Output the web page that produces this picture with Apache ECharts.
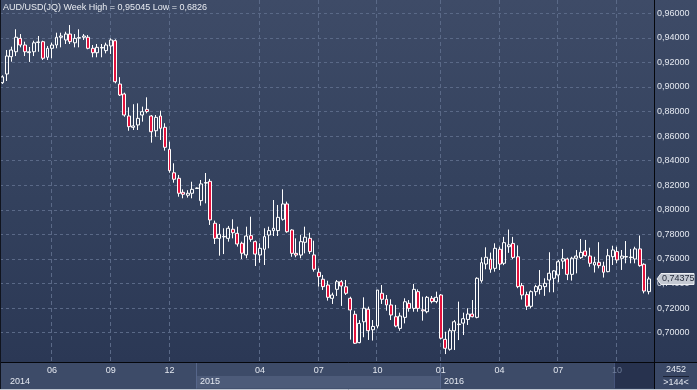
<!DOCTYPE html>
<html><head><meta charset="utf-8">
<script src="https://cdn.jsdelivr.net/npm/echarts@6/dist/echarts.min.js"></script>
<style>
html,body{margin:0;padding:0;background:#2c3855;}
#c{width:697px;height:390px;background:linear-gradient(to bottom,#3e4b67 0px,#34425e 180px,#2b3855 362px,#2b3855 390px);}
</style>
</head><body><div id="c"></div>
<script>
const opens = [
.9035,.9106,.9247,.9287,.9396,.9342,.9280,.9287,.9362,.9369,.9242,.9315,
.9342,.9405,.9383,.9431,.9360,.9398,.9405,.9405,.9315,.9279,.9318,.9296,
.9334,.9377,.9024,.8943,.8764,.8672,.8691,.8772,.8818,.8764,.8644,.8764,
.8672,.8493,.8302,.8257,.8143,.8119,.8135,.8174,.8075,.8218,.8232,.7891,
.7768,.7780,.7768,.7842,.7809,.7728,.7633,.7790,.7741,.7633,.7679,.7795,
.7831,.7831,.7923,.8048,.7836,.7646,.7632,.7736,.7768,.7633,.7492,.7435,
.7388,.7280,.7353,.7415,.7374,.7280,.7150,.6919,.7089,.7191,.7024,.7054,
.7321,.7272,.7226,.7130,.7035,.7125,.7239,.7198,.7334,.7186,.7171,.7280,
.7253,.7307,.6946,.6865,.7016,.7066,.7078,.7108,.7152,.7125,.7423,.7559,
.7599,.7524,.7679,.7565,.7700,.7727,.7618,.7383,.7310,.7215,.7334,.7353,
.7375,.7429,.7443,.7470,.7583,.7600,.7475,.7606,.7611,.7665,.7624,.7551,
.7573,.7543,.7497,.7619,.7660,.7606,.7616,.7611,.7600,.7682,.7557,.7334];
const closes = [
.9082,.9252,.9301,.9405,.9342,.9287,.9287,.9360,.9367,.9234,.9315,.9342,
.9405,.9415,.9431,.9369,.9396,.9402,.9415,.9315,.9279,.9323,.9322,.9342,
.9383,.9043,.8935,.8772,.8677,.8683,.8745,.8799,.8800,.8636,.8753,.8664,
.8509,.8319,.8249,.8135,.8127,.8135,.8167,.8178,.8211,.8222,.7918,.7768,
.7801,.7784,.7850,.7814,.7722,.7647,.7787,.7760,.7640,.7687,.7782,.7831,
.7850,.7939,.8048,.7822,.7646,.7632,.7741,.7777,.7660,.7516,.7456,.7375,
.7288,.7307,.7415,.7380,.7321,.7185,.6914,.7076,.7199,.7016,.7051,.7347,
.7272,.7226,.7144,.7054,.7136,.7252,.7198,.7353,.7198,.7178,.7288,.7253,
.7288,.6955,.6873,.7016,.7089,.7070,.7114,.7152,.7130,.7443,.7570,.7614,
.7516,.7687,.7559,.7733,.7715,.7613,.7375,.7307,.7215,.7334,.7375,.7383,
.7402,.7484,.7503,.7578,.7602,.7475,.7606,.7624,.7654,.7627,.7565,.7573,
.7546,.7492,.7627,.7673,.7592,.7624,.7620,.7615,.7682,.7546,.7339,.74375];
const lows = [
.9025,.9049,.9206,.9252,.9323,.9252,.9204,.9252,.9287,.9220,.9220,.9234,
.9315,.9323,.9350,.9350,.9323,.9323,.9383,.9307,.9242,.9242,.9242,.9274,
.9269,.9030,.8927,.8758,.8644,.8650,.8650,.8718,.8786,.8547,.8595,.8569,
.8482,.8302,.8221,.8107,.8094,.8100,.8094,.8170,.8034,.8053,.7877,.7722,
.7627,.7640,.7741,.7768,.7701,.7600,.7606,.7740,.7543,.7570,.7551,.7687,
.7787,.7787,.7912,.7814,.7618,.7614,.7606,.7646,.7641,.7497,.7375,.7348,
.7261,.7234,.7299,.7218,.7307,.6944,.6908,.6914,.6963,.6941,.6936,.7035,
.7234,.7179,.7103,.7044,.7016,.7076,.7171,.7171,.7171,.7098,.7158,.7239,
.7239,.6946,.6826,.6854,.6859,.6940,.6981,.7063,.7125,.7117,.7407,.7516,
.7488,.7497,.7510,.7550,.7650,.7600,.7362,.7270,.7185,.7199,.7300,.7312,
.7300,.7329,.7329,.7410,.7519,.7428,.7424,.7483,.7600,.7618,.7537,.7490,
.7524,.7449,.7492,.7551,.7565,.7511,.7565,.7565,.7565,.7537,.7320,.7312];
const highs = [
.9095,.9301,.9328,.9470,.9431,.9369,.9326,.9377,.9415,.9377,.9334,.9361,
.9442,.9442,.9450,.95045,.9431,.9470,.9431,.9423,.9342,.9350,.9350,.9361,
.9396,.9388,.9080,.8954,.8835,.8860,.8867,.8840,.8916,.8772,.8772,.8807,
.8705,.8555,.8379,.8284,.8167,.8160,.8229,.8182,.8243,.8300,.8252,.7912,
.7885,.7850,.7869,.7923,.7863,.7741,.7863,.7944,.7750,.7728,.7850,.7863,
.8080,.8040,.8167,.8067,.7842,.7768,.7795,.7863,.7814,.7749,.7524,.7470,
.7423,.7326,.7429,.7429,.7429,.7293,.7179,.7103,.7288,.7212,.7103,.7347,
.7388,.7307,.7272,.7226,.7163,.7280,.7266,.7397,.7353,.7293,.7299,.7299,
.7334,.7315,.7008,.7035,.7103,.7253,.7163,.7199,.7266,.7451,.7614,.7695,
.7652,.7728,.7700,.7780,.7840,.7780,.7711,.7405,.7334,.7345,.7390,.7510,
.7443,.7655,.7510,.7592,.7682,.7611,.7618,.7673,.7763,.7755,.7692,.7618,
.7737,.7578,.7682,.7708,.7700,.7673,.7746,.7682,.7700,.7791,.7565,.7456];

const weeks = opens.map((_, i) => 'W' + (i + 1));
const tickIndex = [11, 24, 37, 57, 70, 83, 97, 110, 123, 136];
const tickText = ['06', '09', '12', '04', '07', '10', '01', '04', '07', '10'];
const yearIndex = [0, 43, 97];
const yearText = ['2014', '2015', '2016'];
const yMin = 0.70, yMax = 0.96, yStep = 0.02;
const titleText = 'AUD/USD(JQ) Week High = 0,95045 Low = 0,6826';
const lastPrice = 0.74375;
const barCountText = '2452';
const visibleText = '>144<';

const FONT = '"Liberation Sans", Arial, sans-serif';
const fmt = (v, d) => v.toFixed(d).replace('.', ',');

const data = opens.map((o, i) => [o, closes[i], lows[i], highs[i]]);

const chart = echarts.init(document.getElementById('c'), null, {renderer: 'canvas'});
chart.setOption({
  animation: false,
  backgroundColor: 'transparent',
  grid: {left: 0, right: 46, top: 13.3, bottom: 57.3},
  xAxis: {
    type: 'category', data: weeks, boundaryGap: true, z: 10,
    axisLine: {show: false}, axisTick: {show: false}, splitLine: {show: false},
    axisLabel: {
      interval: (i) => tickIndex.includes(i),
      formatter: (v, i) => {
        const k = tickIndex.indexOf(i);
        if (k < 0) return '';
        return k === tickIndex.length - 1 ? '{dim|' + tickText[k] + '}' : tickText[k];
      },
      margin: 38.3, verticalAlign: 'middle', color: '#e4e8f0', fontSize: 9, fontFamily: FONT,
      hideOverlap: false,
      rich: {dim: {color: '#6f7d99', fontSize: 9, fontFamily: FONT}}
    }
  },
  yAxis: {
    type: 'value', position: 'right', min: yMin, max: yMax, interval: yStep, scale: true,
    axisLine: {show: false}, axisTick: {show: false},
    splitLine: {lineStyle: {color: '#5a6987', type: [3, 3], width: 1}},
    axisLabel: {formatter: (v) => fmt(v, 5), color: '#e4e8f0', fontSize: 9, fontFamily: FONT, margin: 6}
  },
  series: [{
    type: 'candlestick', data: data, barWidth: 3.4, clip: false,
    itemStyle: {
      color: 'transparent', color0: '#e3123d',
      borderColor: '#ffffff', borderColor0: '#ffffff', borderColorDoji: '#ffffff', borderWidth: 1
    }
  }]
});

const px = (i) => chart.convertToPixel({xAxisIndex: 0}, weeks[i]);
const py = (v) => chart.convertToPixel({yAxisIndex: 0}, v);
const g = [];
// vertical dashed gridlines at month ticks
tickIndex.forEach((i) => {
  const x = Math.round(px(i)) - 0.5;
  g.push({type: 'line', silent: true, z: 0, shape: {x1: x, y1: 0, x2: x, y2: 362},
    style: {stroke: '#5a6987', lineWidth: 1, lineDash: [4, 3]}});
});
// bottom strip
g.push({type: 'rect', silent: true, z: 0, shape: {x: 0, y: 363, width: 654, height: 26}, style: {fill: '#3d4b68'}});
const x15 = Math.round(px(yearIndex[1])) - 0.5, x16 = Math.round(px(yearIndex[2])) - 0.5;
g.push({type: 'rect', silent: true, z: 0, shape: {x: x15, y: 376, width: x16 - x15, height: 12.5}, style: {fill: '#4d5b79'}});
[x15, x16].forEach((x) => g.push({type: 'line', silent: true, z: 1, shape: {x1: x, y1: 363, x2: x, y2: 388.5},
  style: {stroke: '#56668a', lineWidth: 1}}));
// navigator box
g.push({type: 'rect', silent: true, z: 0, shape: {x: 614, y: 363, width: 40, height: 25.5}, style: {fill: '#27324e'}});
g.push({type: 'line', silent: true, z: 1, shape: {x1: 614.5, y1: 363, x2: 614.5, y2: 388.5}, style: {stroke: '#46547a', lineWidth: 1}});
// year labels
yearIndex.forEach((i, k) => {
  const x = Math.max(10, Math.round(px(i)) + 3);
  g.push({type: 'text', silent: true, z: 11, x: x, y: 382,
    style: {text: yearText[k], fill: '#e4e8f0', font: '9px ' + FONT, verticalAlign: 'middle', align: 'left'}});
});
// right-bottom panel
g.push({type: 'rect', silent: true, z: 0, shape: {x: 655, y: 363, width: 42, height: 26}, style: {fill: '#3a4866'}});
g.push({type: 'text', silent: true, z: 11, x: 676, y: 370, style: {text: barCountText, fill: '#e4e8f0', font: '9px ' + FONT, align: 'center', verticalAlign: 'middle'}});
g.push({type: 'line', silent: true, z: 11, shape: {x1: 663, y1: 376.5, x2: 689, y2: 376.5}, style: {stroke: '#1b2234', lineWidth: 1}});
g.push({type: 'text', silent: true, z: 11, x: 676, y: 383, style: {text: visibleText, fill: '#e4e8f0', font: '9px ' + FONT, align: 'center', verticalAlign: 'middle'}});
// frame lines
g.push({type: 'line', silent: true, z: 12, shape: {x1: 0, y1: 362.5, x2: 697, y2: 362.5}, style: {stroke: '#05070c', lineWidth: 1}});
g.push({type: 'line', silent: true, z: 12, shape: {x1: 654.5, y1: 0, x2: 654.5, y2: 390}, style: {stroke: '#05070c', lineWidth: 1}});
g.push({type: 'line', silent: true, z: 12, shape: {x1: 0.5, y1: 0, x2: 0.5, y2: 390}, style: {stroke: '#10141e', lineWidth: 1}});
g.push({type: 'line', silent: true, z: 12, shape: {x1: 0, y1: 389.5, x2: 697, y2: 389.5}, style: {stroke: '#c3c8d2', lineWidth: 1}});
// title
g.push({type: 'text', silent: true, z: 12, x: 3, y: 7.5, style: {text: titleText, fill: '#e8ebf1', font: '9px ' + FONT, verticalAlign: 'middle'}});
// last price tag
const ty = Math.round(py(lastPrice));
g.push({type: 'polygon', silent: true, z: 20,
  shape: {points: [[657, ty], [661, ty - 5.5], [694, ty - 5.5], [694, ty + 5.5], [661, ty + 5.5]]},
  style: {fill: '#c4c9d2', stroke: '#eceef2', lineWidth: 1}});
g.push({type: 'text', silent: true, z: 21, x: 662, y: ty, style: {text: fmt(lastPrice, 5), fill: '#1f2636', font: '9px ' + FONT, verticalAlign: 'middle'}});
chart.setOption({graphic: g});
</script>
</body></html>
